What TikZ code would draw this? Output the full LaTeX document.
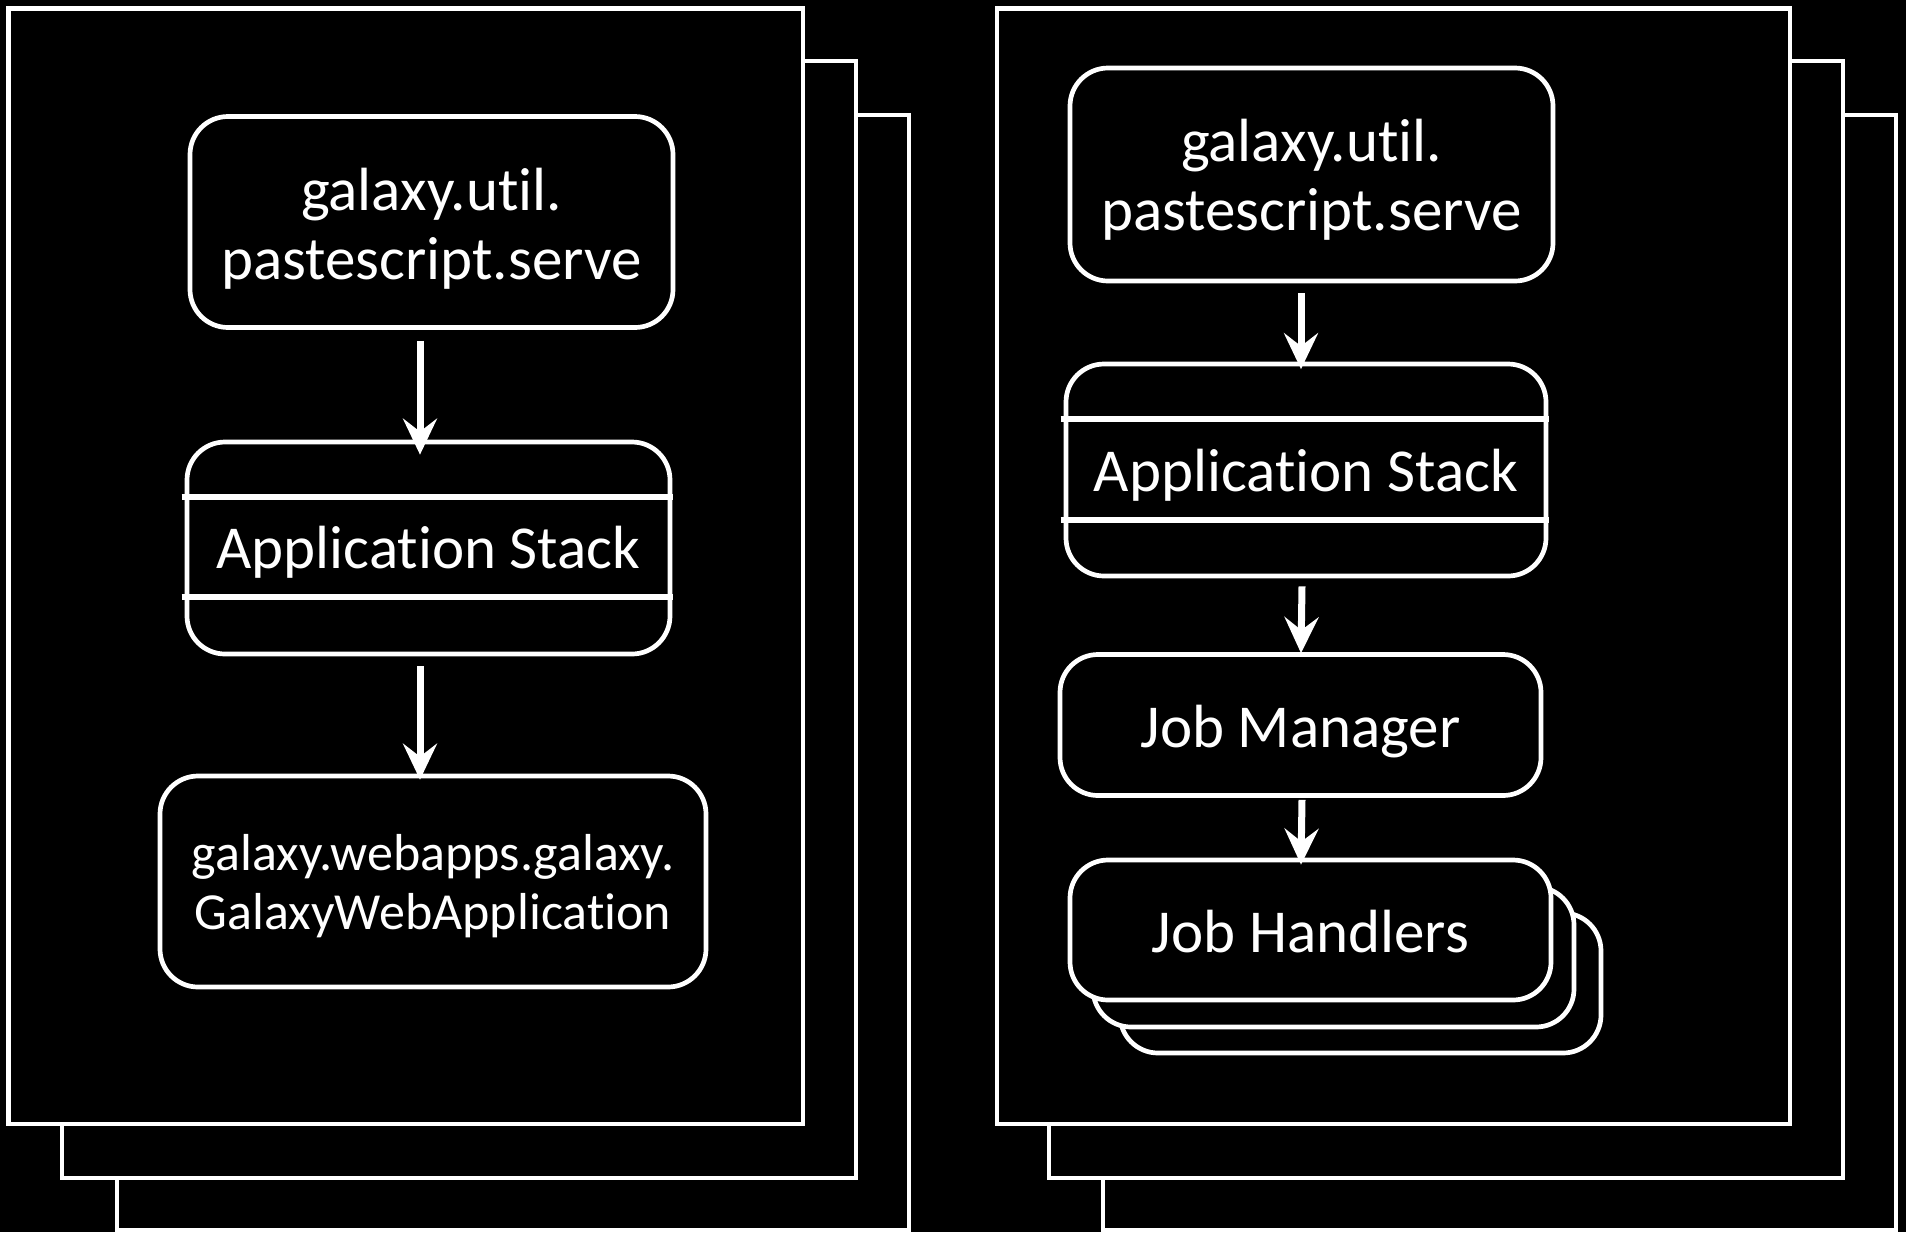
\documentclass[tikz,border=0pt]{standalone}
\usepackage{fontspec}
\setmainfont{Carlito}[Ligatures={NoCommon}]
\usetikzlibrary{arrows.meta}

\begin{document}
\begin{tikzpicture}[x=1pt,y=-1pt,
  frame/.style={draw=white, fill=black, line width=4.7pt},
  box/.style={draw=white, fill=black, line width=4.7pt, rounded corners=38pt,
    inner sep=0pt, minimum width=483pt, minimum height=211pt},
  shortbox/.style={box, minimum width=481pt, minimum height=141pt},
  divider/.style={draw=white, line width=5.7pt},
  lbl/.style={text=white, inner sep=0pt, anchor=base, font=\fontsize{61}{72}\selectfont},
  smalllbl/.style={lbl, font=\fontsize{52}{62}\selectfont},
  arr/.style={draw=white, line width=7pt,
    -{Stealth[length=36pt, width=34pt, inset=13pt]}}
]
% page background
\fill[black] (0,0) rectangle (1906,1232);
\useasboundingbox (0,0) rectangle (1906,1232);

% ---- web server process (stacked pages) ----
\draw[frame] (117,115) rectangle (909,1230);
\draw[frame] (62,61) rectangle (856,1178);
\draw[frame] (8.5,8.5) rectangle (803,1124);

% ---- job handler process (stacked pages) ----
\draw[frame] (1103,115) rectangle (1896,1230);
\draw[frame] (1049,61) rectangle (1843,1178);
\draw[frame] (997,8.5) rectangle (1790,1124);

% ---- left column ----
\node[box] (A) at (431.5,222) {};
\node[lbl] (A1) at ([yshift=12pt]A.center) {galaxy.util.};
\node[lbl] (A2) at ([yshift=-57pt]A.center) {pastescript.serve};

\node[box, minimum height=212pt] (B) at (428.5,548) {};
\draw[divider] ([xshift=-3pt,yshift=-57pt]B.north west) -- ([xshift=1pt,yshift=-57pt]B.north east);
\draw[divider] ([xshift=-3pt,yshift=-157pt]B.north west) -- ([xshift=1pt,yshift=-157pt]B.north east);
\node[lbl] (B1) at ([yshift=-20pt]B.center) {Application Stack};

\node[box, minimum width=546pt] (C) at (433,881.5) {};
\node[smalllbl] (C1) at ([yshift=11.5pt]C.center) {galaxy.webapps.galaxy.};
\node[smalllbl] (C2) at ([yshift=-47.5pt]C.center) {GalaxyWebApplication};

\draw[arr] ([xshift=-11.5pt,yshift=-11pt]A.south) -- ([xshift=-8.5pt,yshift=-15pt]B.north);
\draw[arr] ([xshift=-8.5pt,yshift=-10pt]B.south) -- ([xshift=-13pt,yshift=-6pt]C.north);

% ---- right column ----
\node[box, minimum height=213pt] (D) at (1311.5,174.5) {};
\node[lbl] (D1) at ([yshift=13.5pt]D.center) {galaxy.util.};
\node[lbl] (D2) at ([yshift=-55.5pt]D.center) {pastescript.serve};

\node[box, minimum width=480pt, minimum height=212pt] (E) at (1306,470) {};
\draw[divider] ([xshift=-3pt,yshift=-57pt]E.north west) -- ([xshift=1pt,yshift=-57pt]E.north east);
\draw[divider] ([xshift=-3pt,yshift=-158pt]E.north west) -- ([xshift=1pt,yshift=-158pt]E.north east);
\node[lbl] (E1) at ([yshift=-21pt]E.center) {Application Stack};

\node[shortbox] (F) at (1300.5,725) {};
\node[lbl] (F1) at ([yshift=-22pt]F.center) {Job Manager};

\node[shortbox, minimum height=140pt] (G3) at (1360.5,983) {};
\node[shortbox, minimum height=140pt] (G2) at (1333.5,957) {};
\node[shortbox, minimum height=140pt] (G) at (1310.5,930) {};
\node[lbl] (G1) at ([yshift=-22pt]G.center) {Job Handlers};

\draw[arr] ([xshift=-10.5pt,yshift=-10pt]D.south) -- ([xshift=-5pt,yshift=-7.5pt]E.north);
\draw[arr] ([xshift=-4pt,yshift=-8pt]E.south) -- ([xshift=0.5pt,yshift=-1pt]F.north);
\draw[arr] ([xshift=1.5pt,yshift=-2pt]F.south) -- ([xshift=-9.5pt,yshift=-7pt]G.north);
\end{tikzpicture}
\end{document}
